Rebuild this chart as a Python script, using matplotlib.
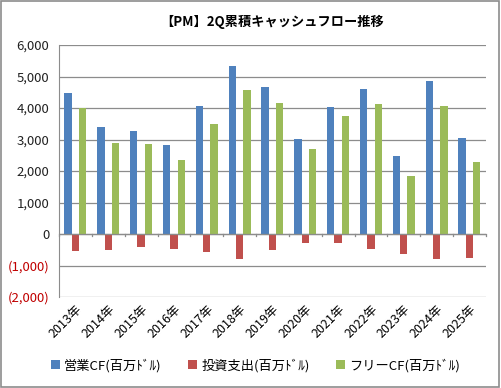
import matplotlib
matplotlib.use("Agg")
import matplotlib.pyplot as plt
import numpy as np
from matplotlib.ticker import FuncFormatter

plt.rcParams['font.family'] = ['Noto Sans CJK JP', 'DejaVu Sans']

years = ["2013年", "2014年", "2015年", "2016年", "2017年", "2018年", "2019年",
         "2020年", "2021年", "2022年", "2023年", "2024年", "2025年"]
operating_cf = [4480, 3410, 3280, 2830, 4070, 5340, 4670, 3020, 4040, 4610, 2490, 4870, 3060]
investing = [-530, -500, -400, -470, -560, -790, -510, -300, -300, -470, -630, -790, -760]
free_cf = [4000, 2900, 2870, 2360, 3500, 4580, 4170, 2710, 3760, 4130, 1850, 4070, 2300]
series_names = ["営業CF(百万ﾄﾞﾙ)", "投資支出(百万ﾄﾞﾙ)", "フリーCF(百万ﾄﾞﾙ)"]
colors = ["#4F81BD", "#C0504D", "#9BBB59"]

fig = plt.figure(figsize=(5.01, 3.88), dpi=100)
fig.patch.set_facecolor("white")
ax = fig.add_axes([0.1178, 0.2345, 0.852, 0.6495])

x = np.arange(len(years))
w = 0.224
for i, (vals, name, c) in enumerate(zip([operating_cf, investing, free_cf], series_names, colors)):
    ax.bar(x + (i - 1) * w, vals, width=w, color=c, label=name, zorder=3)

ax.set_xlim(-0.5, len(years) - 0.5)
ax.set_ylim(-2000, 6000)
ax.set_yticks(range(-2000, 6001, 1000))
ax.yaxis.set_major_formatter(FuncFormatter(lambda v, p: f"({abs(int(v)):,})" if v < 0 else f"{int(v):,}"))
ax.grid(axis="y", color="#8c8c8c", linewidth=0.9, zorder=0)
ax.axhline(0, color="#8c8c8c", linewidth=0.9, zorder=4)
for s in ["top", "right", "bottom"]:
    ax.spines[s].set_visible(False)
ax.spines["left"].set_color("#8c8c8c")
ax.tick_params(axis="y", length=0, labelsize=9.5, pad=7, colors="#222222")
ax.set_xticks(x)
ax.set_xticklabels(years, rotation=45, ha="right", rotation_mode="anchor", fontsize=9)
ax.tick_params(axis="x", length=0, pad=4)
for b in np.arange(-0.5, len(years), 1.0):
    ax.plot([b, b], [0, -60], color="#8c8c8c", linewidth=0.9, zorder=4, clip_on=False)

fig.canvas.draw()
for lbl in ax.get_yticklabels():
    if lbl.get_text().startswith("("):
        lbl.set_color("#C00000")

ax.set_title("【PM】2Q累積キャッシュフロー推移", fontsize=9.5, fontweight="bold", pad=14)
fig.legend(loc="lower center", bbox_to_anchor=(0.51, 0.01), ncol=3, frameon=False,
           fontsize=9.5, handlelength=0.7, handleheight=0.7, handletextpad=0.3, columnspacing=2.0)

border = plt.Rectangle((0.002, 0.003), 0.995, 0.994, transform=fig.transFigure, fill=False,
                       edgecolor="#8c8c8c", linewidth=1.2)
fig.patches.append(border)

fig.savefig("out.png", dpi=100)
